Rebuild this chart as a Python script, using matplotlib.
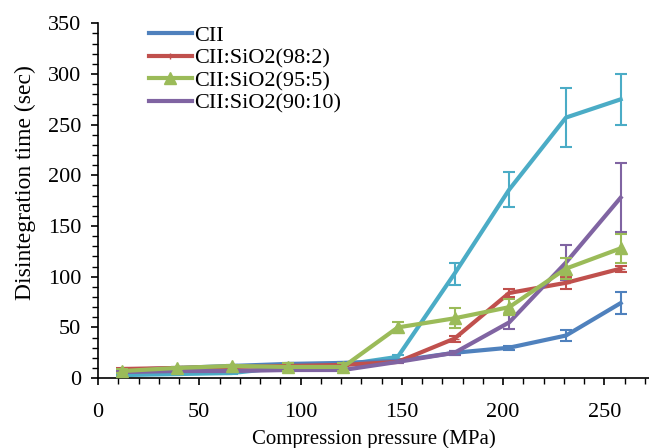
import matplotlib
matplotlib.use("Agg")
import matplotlib.pyplot as plt
from matplotlib.lines import Line2D
from matplotlib.ticker import MultipleLocator

plt.rcParams["font.family"] = ["Liberation Serif", "DejaVu Serif"]

pressure = [12, 39, 66, 94, 121, 148, 176, 203, 231, 258]

cii = [8, 10, 12, 14, 15, 17, 25, 30, 42, 74]
cii_err = [1, 1, 1, 1, 1, 1, 2, 2, 5, 11]

cii_98_2 = [9, 10, 11, 12, 13, 16, 39, 84, 94, 108]
cii_98_2_err = [1, 1, 1, 1, 1, 1, 3, 4, 6, 3]

cii_95_5 = [7, 10, 12, 11, 11, 50, 59, 70, 108, 128]
cii_95_5_err = [2, 1, 1, 4, 4, 5, 10, 8, 10, 14]

cii_90_10 = [6, 7, 7, 8, 8, 16, 25, 55, 114, 178]
cii_90_10_err = [1, 1, 1, 1, 1, 1, 2, 7, 17, 34]

unlabelled = [3, 4, 5, 11, 13, 21, 103, 186, 257, 275]
unlabelled_err = [1, 1, 1, 1, 1, 2, 11, 17, 29, 25]

colors = {"cii": "#4F81BD", "98": "#C0504D", "95": "#9BBB59", "90": "#8064A2", "extra": "#4BACC6"}

fig = plt.figure(figsize=(6.49, 4.48), dpi=100)
ax = fig.add_axes([0.151, 0.156, 0.849, 0.792])

common = dict(linewidth=3, elinewidth=1.5, capsize=4, capthick=1.5)

ax.errorbar(pressure, unlabelled, yerr=unlabelled_err, color=colors["extra"], zorder=2, **common)
ax.errorbar(pressure, cii, yerr=cii_err, color=colors["cii"], zorder=3, **common)
ax.errorbar(pressure, cii_98_2, yerr=cii_98_2_err, color=colors["98"], marker="_",
            markersize=6, zorder=3, **common)
ax.errorbar(pressure, cii_95_5, yerr=cii_95_5_err, color=colors["95"], marker="^",
            markersize=8, zorder=4, **common)
ax.errorbar(pressure, cii_90_10, yerr=cii_90_10_err, color=colors["90"], zorder=3, **common)

ax.set_xlim(0, 272)
ax.set_ylim(0, 350)
ax.xaxis.set_major_locator(MultipleLocator(50))
ax.xaxis.set_minor_locator(MultipleLocator(10))
ax.yaxis.set_major_locator(MultipleLocator(50))
ax.yaxis.set_minor_locator(MultipleLocator(10))
ax.tick_params(which="major", direction="out", length=5, width=1.2, labelsize=16)
ax.tick_params(which="minor", direction="out", length=4, width=1)
ax.tick_params(axis="x", which="major", pad=13)
ax.tick_params(axis="y", which="major", pad=7)

for side in ["top", "right"]:
    ax.spines[side].set_visible(False)
ax.spines["left"].set_linewidth(1.2)
ax.spines["bottom"].set_linewidth(1.2)

ax.set_xlabel("Compression pressure (MPa)", fontsize=15, labelpad=5)
ax.set_ylabel("Disintegration time (sec)", fontsize=17)
ax.yaxis.set_label_coords(-0.113, 0.55)

handles = [
    Line2D([], [], color=colors["cii"], linewidth=3),
    Line2D([], [], color=colors["98"], linewidth=3, marker="|", markersize=5),
    Line2D([], [], color=colors["95"], linewidth=3, marker="^", markersize=8),
    Line2D([], [], color=colors["90"], linewidth=3),
]
labels = ["CII", "CII:SiO2(98:2)", "CII:SiO2(95:5)", "CII:SiO2(90:10)"]
ax.legend(handles, labels, loc="upper left", bbox_to_anchor=(0.077, 1.02), frameon=False,
          fontsize=16, handlelength=1.9, handletextpad=0.1, labelspacing=0.1,
          borderaxespad=0)

fig.savefig("out.png", dpi=100)
